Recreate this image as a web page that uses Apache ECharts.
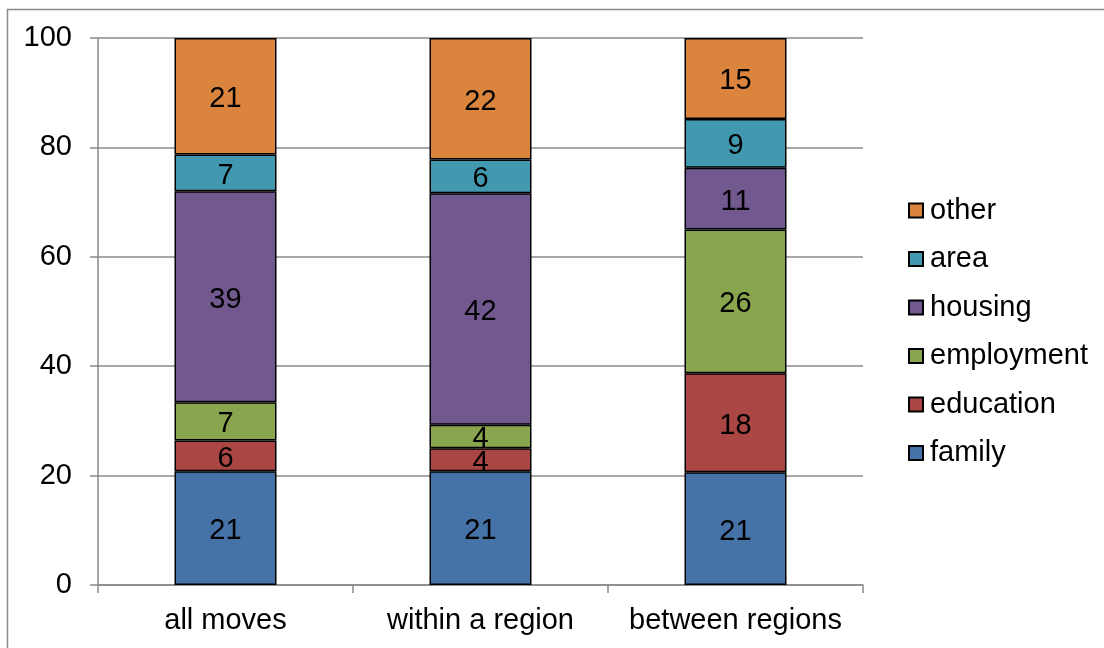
<!DOCTYPE html>
<html>
<head>
<meta charset="utf-8">
<script src="https://cdn.jsdelivr.net/npm/echarts@6/dist/echarts.min.js"></script>
<style>
  html, body { margin: 0; padding: 0; background: #fff; }
  #chart { width: 1104px; height: 648px; }
</style>
</head>
<body>
<div id="chart"></div>
<script>
// Reasons for moving, share of moves (%)
const categories = ['all moves', 'within a region', 'between regions'];
const family     = [20.8, 20.8, 20.6];
const education  = [5.6, 4.2, 18.1];
const employment = [7.0, 4.3, 26.3];
const housing    = [38.6, 42.3, 11.3];
const area       = [6.7, 6.2, 8.9];
const other      = [21.3, 22.2, 14.8];
const yTicks     = [0, 20, 40, 60, 80, 100];

const FONT = '"Liberation Sans", Arial, sans-serif';
const FS = 29;
const GRAY = '#8a8a8a';

const seriesDefs = [
  { name: 'family',     data: family,     color: '#4572A7' },
  { name: 'education',  data: education,  color: '#AA4643' },
  { name: 'employment', data: employment, color: '#89A54E' },
  { name: 'housing',    data: housing,    color: '#71588F' },
  { name: 'area',       data: area,       color: '#4198AF' },
  { name: 'other',      data: other,      color: '#DB843D' }
];

const chart = echarts.init(document.getElementById('chart'), null, { renderer: 'canvas' });

chart.setOption({
  animation: false,
  backgroundColor: '#fff',
  graphic: [{
    type: 'rect',
    shape: { x: 7.5, y: 9.5, width: 1110, height: 660 },
    style: { fill: 'none', stroke: GRAY, lineWidth: 1.5 },
    silent: true
  }],
  grid: { left: 98, right: 241, top: 38, bottom: 63, containLabel: false },
  legend: {
    orient: 'vertical',
    left: 903,
    top: 191,
    itemWidth: 14,
    itemHeight: 14,
    itemGap: 19.5,
    data: seriesDefs.map(s => s.name).reverse(),
    textStyle: { fontFamily: FONT, fontSize: FS, color: '#000', lineHeight: 29, padding: [0, 0, 0, 2] },
    icon: 'rect'
  },
  xAxis: {
    type: 'category',
    data: categories,
    axisLine: { lineStyle: { color: GRAY, width: 1.5 } },
    axisTick: { show: true, length: 8, lineStyle: { color: GRAY, width: 1.5 } },
    axisLabel: { fontFamily: FONT, fontSize: FS, color: '#000', margin: 21, interval: 0 }
  },
  yAxis: {
    type: 'value',
    min: yTicks[0],
    max: yTicks[yTicks.length - 1],
    interval: yTicks[1] - yTicks[0],
    axisLine: { show: true, lineStyle: { color: GRAY, width: 1.5 } },
    axisTick: { show: true, length: 8, lineStyle: { color: GRAY, width: 1.5 } },
    splitLine: { lineStyle: { color: GRAY, width: 1.5 } },
    axisLabel: { fontFamily: FONT, fontSize: FS, color: '#000', margin: 26 }
  },
  series: seriesDefs.map(s => ({
    name: s.name,
    type: 'bar',
    stack: 'total',
    barWidth: '40%',
    data: s.data,
    itemStyle: { color: s.color, borderColor: '#000', borderWidth: 1.5 },
    label: {
      show: true,
      position: 'inside',
      offset: [0, 3],
      fontFamily: FONT,
      fontSize: FS,
      color: '#000',
      formatter: p => String(Math.round(p.value))
    }
  }))
});
</script>
</body>
</html>
